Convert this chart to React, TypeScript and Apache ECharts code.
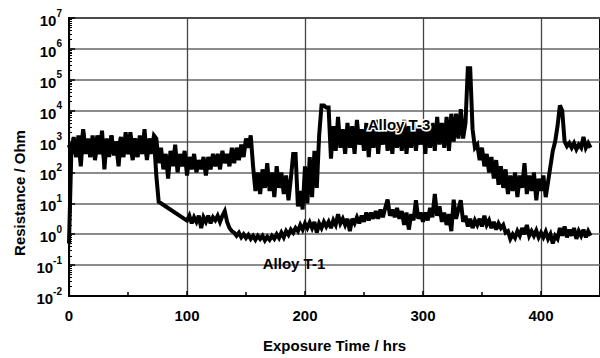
import React, { useEffect, useRef } from "react";
import * as echarts from "echarts";

// Sampling step of the recorded curves (hours between samples)
const HOURS_STEP = 2;

// log10(Resistance / Ohm) for Alloy T-3, one value every HOURS_STEP hours from 0 h
const t3LogOhm: (number | null)[] = [
  2.9, 2.6, 3.15, 2.5, 3.2, 2.6, 3.4, 2.7, 3.1, 2.5,
  3.1, 2.6, 3.2, 2.7, 3.35, 2.1, 3.1, 2.6, 3.2, 2.55,
  3.0, 2.7, 3.15, 2.5, 3.1, 2.6, 3.3, 2.7, 3.1, 2.5,
  3.2, 2.6, 3.0, 2.5, 3.1, 2.7, 3.2, 3.1, 2.3, 2.8,
  2.1, 2.6, 1.8, 2.7, 2.2, 2.9, 2.0, 2.6, 2.2, 2.7,
  1.9, 2.5, 2.1, 2.6, 2.0, 2.4, 2.1, 2.5, 1.9, 2.5,
  2.1, 2.6, 2.2, 2.6, 2.1, 2.7, 2.3, 2.6, 2.2, 2.8,
  2.3, 2.8, 2.4, 2.9, 2.5, 3.1, 2.8, 3.2, 2.2, 1.4,
  2.0, 1.3, 2.1, 1.5, 2.3, 1.4, 2.0, 1.2, 2.2, 1.5,
  2.0, 1.3, 1.9, 1.1, 1.8, 2.6, 2.6, 0.9, 1.4, 0.8,
  2.2, 1.0, 2.5, 1.2, 2.7, 1.5, 3.2, 4.17, 4.17, 4.1,
  4.1, 2.45, 3.5, 2.7, 3.8, 2.8, 3.4, 2.6, 3.6, 2.8,
  3.5, 2.6, 3.7, 2.9, 3.4, 2.7, 3.6, 2.5, 3.5, 2.8,
  3.7, 2.6, 3.5, 2.9, 3.6, 2.7, 3.4, 2.6, 3.6, 2.8,
  3.5, 2.7, 3.7, 2.6, 3.5, 2.8, 3.6, 2.7, 3.5, 2.9,
  3.6, 2.6, 3.7, 2.8, 3.6, 2.7, 3.8, 2.9, 3.6, 2.8,
  3.8, 2.7, 3.9, 3.0, 3.9, 3.1, 4.05, 3.1, 3.6, 5.37,
  5.37, 3.4, 2.8, 2.9, 2.4, 2.8, 2.2, 2.6, 2.0, 2.5,
  1.8, 2.4, 1.6, 2.2, 1.5, 2.1, 1.3, 1.9, 1.4, 2.0,
  1.2, 1.9, 1.5, 2.3, 1.3, 1.9, 1.4, 2.0, 1.1, 1.8,
  1.4, 1.9, 1.2, 1.7, 2.2, 2.7, 3.0, 3.5, 4.17, 4.0,
  3.0, 2.85, 2.95, 2.8, 2.95, 2.75, 2.9, 2.8, 3.15, 2.8,
  2.95, 2.8,
];

// log10(Resistance / Ohm) for Alloy T-1 (null = no sample recorded)
const t1LogOhm: (number | null)[] = [
  -0.3, 2.7, 3.1, 2.5, 3.0, 2.2, 3.3, 2.6, 3.0, 2.5,
  3.2, 2.4, 2.9, 2.6, 3.1, 2.3, 3.0, 2.5, 3.2, 2.6,
  2.9, 2.2, 3.1, 2.5, 3.3, 2.6, 2.9, 2.4, 3.1, 2.5,
  3.0, 2.6, 3.4, 2.4, 3.0, 2.6, 3.1, 1.9, 1.05, null,
  null, null, null, null, null, null, null, null, null, null,
  0.44, 0.6, 0.35, 0.55, 0.4, 0.6, 0.2, 0.55, 0.4, 0.6,
  0.35, 0.55, 0.45, 0.6, 0.4, 0.6, 0.75, 0.4, 0.2, 0.1,
  0.05, -0.05, 0.05, -0.1, 0.0, -0.12, -0.02, -0.15, -0.05, -0.18,
  -0.05, -0.15, -0.05, -0.2, -0.08, -0.18, -0.05, -0.15, 0.0, -0.12,
  0.05, -0.1, 0.1, -0.02, 0.15, 0.05, 0.2, 0.1, 0.3, 0.15,
  0.35, 0.2, 0.38, 0.2, 0.4, 0.05, 0.35, 0.2, 0.4, 0.25,
  0.4, 0.2, 0.45, 0.3, 0.65, 0.35, 0.5, 0.3, 0.5, 0.1,
  0.5, 0.35, 0.55, 0.35, 0.6, 0.4, 0.7, 0.45, 0.7, 0.5,
  0.75, 0.5, 0.8, 0.55, 0.85, 1.12, 0.6, 0.8, 0.55, 0.85,
  0.5, 0.75, 0.3, 0.7, 0.15, 0.65, 0.45, 1.1, 0.5, 0.7,
  0.4, 0.7, 0.45, 0.85, 0.55, 1.3, 0.6, 0.9, 0.4, 0.7,
  0.3, 0.65, 0.1, 1.12, 0.5, 0.8, 1.1, 0.4, 0.6, 0.25,
  0.5, 0.2, 0.45, 0.3, 0.5, 0.25, 0.6, 0.3, 0.45, 0.2,
  0.4, 0.15, 0.35, 0.2, 0.3, 0.05, 0.1, -0.15, 0.0, -0.12,
  0.1, -0.05, 0.2, 0.0, 0.3, -0.05, 0.1, -0.05, 0.12, -0.1,
  0.05, -0.1, 0.08, -0.15, 0.0, -0.3, -0.05, -0.15, 0.2, -0.05,
  0.25, -0.1, 0.15, -0.05, 0.2, -0.15, 0.1, -0.05, 0.15, -0.1,
  0.1, -0.05,
];

const seriesNames = ["Alloy T-3", "Alloy T-1"];
const xAxisMin = 0;
const xAxisMax = 450;
const xAxisInterval = 100;
const yAxisMin = 0.01;
const yAxisMax = 1e7;

const FONT = "'Liberation Sans', Arial, Helvetica, sans-serif";

function toPoints(logs: (number | null)[]): [number, number][] {
  const pts: [number, number][] = [];
  logs.forEach((e, i) => {
    if (e !== null) pts.push([i * HOURS_STEP, Math.pow(10, e)]);
  });
  return pts;
}

export default function App() {
  const ref = useRef<HTMLDivElement>(null);

  useEffect(() => {
    if (!ref.current) return;
    document.body.style.margin = "0";
    document.body.style.overflow = "hidden";
    const chart = echarts.init(ref.current, undefined, { renderer: "svg" });
    chart.setOption({
      animation: false,
      backgroundColor: "#fff",
      grid: {
        left: 69,
        top: 18,
        width: 540,
        height: 286,
        show: true,
        borderColor: "#000",
        borderWidth: 2,
        containLabel: false,
      },
      xAxis: {
        type: "value",
        min: xAxisMin,
        max: xAxisMax,
        interval: xAxisInterval,
        name: "Exposure Time / hrs",
        nameLocation: "middle",
        nameGap: 42,
        nameTextStyle: { color: "#000", fontWeight: "bold", fontSize: 15, fontFamily: FONT },
        axisLine: { show: true, lineStyle: { color: "#000", width: 2 } },
        axisTick: { show: true, inside: true, length: 5, lineStyle: { color: "#000", width: 1.5 } },
        minorTick: { show: true, splitNumber: 2, length: 4, lineStyle: { color: "#000", width: 1.5 } },
        axisLabel: {
          color: "#000",
          fontWeight: "bold",
          fontSize: 15,
          fontFamily: FONT,
          margin: 12,
          showMaxLabel: false,
        },
        splitLine: { show: true, lineStyle: { color: "#444", width: 1.3 } },
      },
      yAxis: {
        type: "log",
        logBase: 10,
        min: yAxisMin,
        max: yAxisMax,
        axisLine: { show: true, lineStyle: { color: "#000", width: 2 } },
        axisTick: { show: true, inside: true, length: 6, lineStyle: { color: "#000", width: 1.5 } },
        minorTick: { show: true, splitNumber: 9, length: 3, lineStyle: { color: "#000", width: 1 } },
        axisLabel: {
          margin: 7,
          formatter: (v: number) => {
            const e = Math.round(Math.log10(v));
            return `{b|10}{s|${e}}`;
          },
          rich: {
            b: { color: "#000", fontWeight: "bold", fontSize: 15, fontFamily: FONT, lineHeight: 20, verticalAlign: "bottom" },
            s: { color: "#000", fontWeight: "bold", fontSize: 10, fontFamily: FONT, lineHeight: 20, verticalAlign: "top" },
          },
        },
        splitLine: { show: true, lineStyle: { color: "#666", width: 1.5 } },
      },
      series: [
        {
          name: seriesNames[0],
          type: "line",
          data: toPoints(t3LogOhm),
          showSymbol: false,
          symbol: "none",
          lineStyle: { color: "#000", width: 4, join: "miter", miterLimit: 3 },
          z: 3,
        },
        {
          name: seriesNames[1],
          type: "line",
          data: toPoints(t1LogOhm),
          showSymbol: false,
          symbol: "none",
          lineStyle: { color: "#000", width: 4, join: "miter", miterLimit: 3 },
          z: 3,
        },
      ],
      graphic: [
        {
          type: "text",
          x: 19,
          y: 193,
          rotation: Math.PI / 2,
          style: {
            text: "Resistance / Ohm",
            fill: "#000",
            font: `bold 15px ${FONT}`,
            textAlign: "center",
            textVerticalAlign: "middle",
          },
        },
        {
          type: "text",
          x: 399,
          y: 124,
          z: 10,
          style: {
            text: seriesNames[0],
            fill: "#000",
            stroke: "#fff",
            lineWidth: 3,
            strokeFirst: true,
            font: `bold 15px ${FONT}`,
            textAlign: "center",
            textVerticalAlign: "middle",
          },
        },
        {
          type: "text",
          x: 294,
          y: 263,
          z: 10,
          style: {
            text: seriesNames[1],
            fill: "#000",
            font: `bold 15px ${FONT}`,
            textAlign: "center",
            textVerticalAlign: "middle",
          },
        },
      ],
    });
    return () => chart.dispose();
  }, []);

  return (
    <div style={{ width: 600, height: 358, overflow: "hidden", background: "#fff" }}>
      <div ref={ref} style={{ width: 600, height: 358 }} />
    </div>
  );
}
